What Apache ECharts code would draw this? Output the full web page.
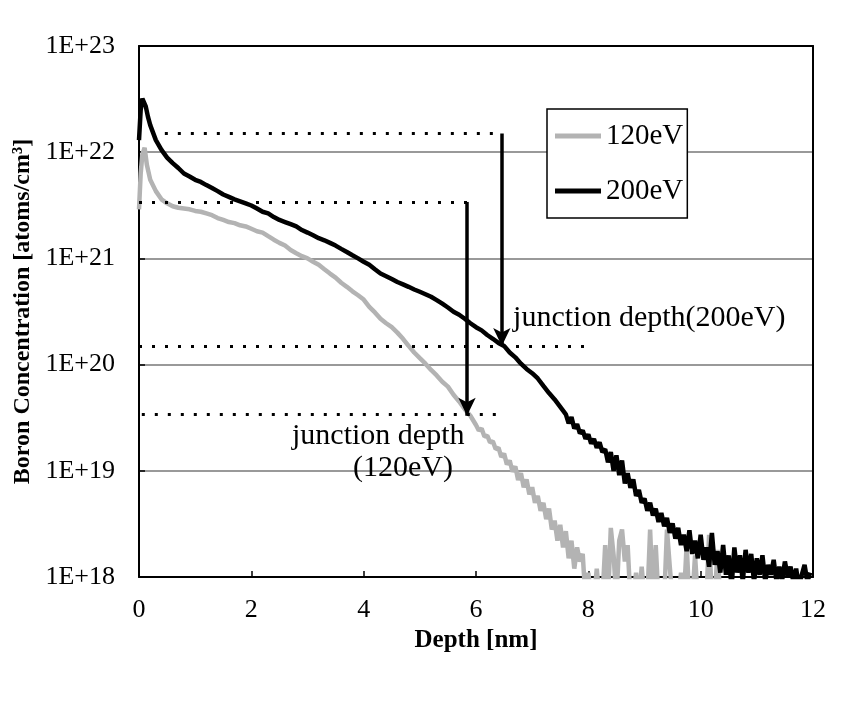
<!DOCTYPE html>
<html>
<head>
<meta charset="utf-8">
<script src="https://cdn.jsdelivr.net/npm/echarts@6/dist/echarts.min.js"></script>
<style>
html,body{margin:0;padding:0;background:#fff;}
#chart{width:865px;height:706px;}
</style>
</head>
<body>
<div id="chart"></div>
<script>
// ---- data ----
const seriesNames = ['120eV', '200eV'];

const depth120 = [0, 0.03, 0.06, 0.1, 0.14, 0.2, 0.3, 0.4, 0.5, 0.6, 0.7, 0.8, 0.9, 1.0,
  1.1, 1.2, 1.3, 1.4, 1.5, 1.6, 1.7, 1.8, 1.9, 2.0, 2.1, 2.2, 2.3, 2.4, 2.5, 2.6, 2.7, 2.8, 2.9, 3.0,
  3.1, 3.2, 3.3, 3.4, 3.5, 3.6, 3.7, 3.8, 3.9, 4.0, 4.1, 4.2, 4.3, 4.4, 4.5, 4.6, 4.7, 4.8, 4.9, 5.0,
  5.1, 5.2, 5.3, 5.4, 5.5, 5.6, 5.7, 5.8, 5.9, 6.0,
  6.05, 6.1, 6.15, 6.2, 6.25, 6.3, 6.35, 6.4, 6.45, 6.5, 6.55, 6.6, 6.65, 6.7, 6.75, 6.8, 6.85, 6.9, 6.95, 7.0,
  7.05, 7.1, 7.15, 7.2, 7.25, 7.3, 7.35, 7.4, 7.45, 7.5, 7.55, 7.6, 7.65, 7.7, 7.75, 7.8, 7.85, 7.9, 7.95, 8.0,
  8.05, 8.1, 8.15, 8.2, 8.25, 8.3, 8.35, 8.4, 8.45, 8.5, 8.55, 8.6, 8.65, 8.7, 8.75, 8.8, 8.85, 8.9, 8.95, 9.0,
  9.05, 9.1, 9.15, 9.2, 9.25, 9.3, 9.35, 9.4, 9.45, 9.5, 9.55, 9.6, 9.65, 9.7, 9.75, 9.8, 9.85, 9.9, 9.95, 10.0,
  10.05, 10.1, 10.15, 10.2, 10.25, 10.3, 10.35, 10.4, 10.45];
const conc120 = [2.9e21, 6.3e21, 9.5e21, 1.1e22, 7.6e21, 5.5e21, 4.3e21, 3.6e21, 3.3e21, 3.1e21, 3.0e21, 2.95e21, 2.9e21, 2.8e21,
  2.75e21, 2.65e21, 2.55e21, 2.4e21, 2.3e21, 2.2e21, 2.15e21, 2.05e21, 2.0e21, 1.9e21, 1.8e21, 1.75e21, 1.62e21, 1.5e21, 1.4e21, 1.32e21, 1.2e21, 1.12e21, 1.05e21, 1.0e21,
  9.3e20, 8.7e20, 7.9e20, 7.2e20, 6.6e20, 5.9e20, 5.4e20, 4.9e20, 4.5e20, 4.1e20, 3.5e20, 3.1e20, 2.7e20, 2.45e20, 2.25e20, 2.0e20, 1.75e20, 1.5e20, 1.3e20, 1.15e20,
  1.02e20, 8.9e19, 7.9e19, 6.9e19, 6.2e19, 5.2e19, 4.5e19, 3.8e19, 3.3e19, 2.7e19,
  2.4e19, 2.5e19, 2.1e19, 2.15e19, 1.85e19, 1.9e19, 1.6e19, 1.65e19, 1.35e19, 1.45e19, 1.15e19, 1.25e19, 9.8e18, 1.1e19, 8.2e18, 9.5e18, 7.0e18, 8.3e18, 6.0e18, 7.0e18,
  5.0e18, 5.8e18, 4.2e18, 5.0e18, 3.5e18, 4.4e18, 2.8e18, 3.4e18, 2.2e18, 3.1e18, 1.9e18, 2.7e18, 1.5e18, 2.2e18, 1.2e18, 1.9e18, 1.4e18, 1.65e18, 6e17, 1.1e18,
  6e17, 6e17, 1.2e18, 6e17, 6e17, 2.0e18, 6e17, 2.9e18, 1.6e18, 6e17, 2.2e18, 2.8e18, 1.4e18, 2.0e18, 6e17, 6e17, 1.1e18, 6e17, 1.25e18, 6e17,
  6e17, 2.8e18, 6e17, 2.0e18, 6e17, 6e17, 6e17, 2.8e18, 1.25e18, 6e17, 6e17, 6e17, 1.1e18, 6e17, 2.0e18, 6e17, 6e17, 1.6e18, 6e17, 6e17,
  6e17, 6e17, 2.5e18, 6e17, 6e17, 1.8e18, 6e17, 6e17, 6e17];

const depth200 = [0, 0.03, 0.06, 0.09, 0.12, 0.16, 0.2, 0.3, 0.4, 0.5, 0.6, 0.7, 0.8, 0.9, 1.0,
  1.1, 1.2, 1.3, 1.4, 1.5, 1.6, 1.7, 1.8, 1.9, 2.0, 2.1, 2.2, 2.3, 2.4, 2.5, 2.6, 2.7, 2.8, 2.9, 3.0,
  3.1, 3.2, 3.3, 3.4, 3.5, 3.6, 3.7, 3.8, 3.9, 4.0, 4.1, 4.2, 4.3, 4.4, 4.5, 4.6, 4.7, 4.8, 4.9, 5.0,
  5.1, 5.2, 5.3, 5.4, 5.5, 5.6, 5.7, 5.8, 5.9, 6.0, 6.1, 6.2, 6.3, 6.4, 6.5, 6.6, 6.7, 6.8, 6.9, 7.0,
  7.1, 7.2, 7.3, 7.4, 7.5, 7.6,
  7.65, 7.7, 7.75, 7.8, 7.85, 7.9, 7.95, 8.0, 8.05, 8.1, 8.15, 8.2, 8.25, 8.3, 8.35, 8.4, 8.45, 8.5,
  8.55, 8.6, 8.65, 8.7, 8.75, 8.8, 8.85, 8.9, 8.95, 9.0, 9.05, 9.1, 9.15, 9.2, 9.25, 9.3, 9.35, 9.4, 9.45, 9.5,
  9.55, 9.6, 9.65, 9.7, 9.75, 9.8, 9.85, 9.9, 9.95, 10.0, 10.05, 10.1, 10.15, 10.2, 10.25, 10.3, 10.35, 10.4, 10.45, 10.5,
  10.55, 10.6, 10.65, 10.7, 10.75, 10.8, 10.85, 10.9, 10.95, 11.0, 11.05, 11.1, 11.15, 11.2, 11.25, 11.3, 11.35, 11.4, 11.45, 11.5,
  11.55, 11.6, 11.65, 11.7, 11.75, 11.8, 11.85, 11.9, 11.95];
const conc200 = [1.3e22, 2.5e22, 3.2e22, 3.3e22, 2.7e22, 2.15e22, 1.8e22, 1.3e22, 1.05e22, 8.9e21, 7.9e21, 7.1e21, 6.3e21, 5.9e21, 5.5e21,
  5.25e21, 4.9e21, 4.6e21, 4.3e21, 4.0e21, 3.8e21, 3.6e21, 3.45e21, 3.3e21, 3.15e21, 2.95e21, 2.75e21, 2.65e21, 2.45e21, 2.3e21, 2.2e21, 2.1e21, 2.0e21, 1.85e21, 1.75e21,
  1.65e21, 1.55e21, 1.48e21, 1.4e21, 1.32e21, 1.23e21, 1.15e21, 1.07e21, 1.0e21, 9.3e20, 8.7e20, 7.9e20, 7.2e20, 6.8e20, 6.4e20, 6.0e20, 5.7e20, 5.4e20, 5.1e20, 4.85e20,
  4.6e20, 4.35e20, 4.05e20, 3.75e20, 3.45e20, 3.15e20, 2.95e20, 2.7e20, 2.45e20, 2.25e20, 2.1e20, 1.9e20, 1.75e20, 1.6e20, 1.5e20, 1.3e20, 1.17e20, 1.02e20, 9.1e19, 8.3e19,
  7.4e19, 6.3e19, 5.4e19, 4.7e19, 4.0e19, 3.4e19,
  2.8e19, 3.2e19, 2.5e19, 2.75e19, 2.25e19, 2.4e19, 2.0e19, 2.2e19, 1.8e19, 2.0e19, 1.65e19, 1.85e19, 1.5e19, 1.6e19, 1.2e19, 1.5e19, 1.0e19, 1.4e19,
  9.1e18, 1.25e19, 7.6e18, 9.5e18, 6.9e18, 8.3e18, 5.8e18, 6.6e18, 5.0e18, 5.5e18, 4.2e18, 5.0e18, 3.8e18, 4.4e18, 3.3e18, 4.0e18, 3.0e18, 3.6e18, 2.6e18, 3.2e18,
  2.3e18, 2.9e18, 2.0e18, 2.5e18, 1.75e18, 2.75e18, 1.65e18, 2.2e18, 1.5e18, 2.5e18, 1.45e18, 1.9e18, 1.25e18, 2.6e18, 1.3e18, 1.75e18, 1.1e18, 2.0e18, 1.05e18, 1.6e18,
  8e17, 1.9e18, 1.1e18, 1.6e18, 9e17, 1.8e18, 1.1e18, 1.65e18, 9e17, 1.5e18, 1.05e18, 1.6e18, 9e17, 1.3e18, 1.05e18, 1.45e18, 9e17, 1.25e18, 9.3e17, 1.4e18,
  1.0e18, 1.25e18, 9e17, 1.2e18, 8e17, 1.05e18, 1.3e18, 9e17, 1.1e18];

// y tick values (decades) and x ticks
const yTickExponents = [18, 19, 20, 21, 22, 23];
const xTicks = [0, 2, 4, 6, 8, 10, 12];

// junction-depth construction (depth, concentration)
const dotted200Top = [[0.46, 1.5e22], [6.46, 1.5e22]];
const dotted200Bottom = [[0.0, 1.5e20], [8.07, 1.5e20]];
const dotted120Top = [[0.0, 3.4e21], [5.84, 3.4e21]];
const dotted120Bottom = [[0.05, 3.4e19], [6.47, 3.4e19]];
const arrow200 = [[6.46, 1.5e22], [6.46, 1.5e20]];
const arrow120 = [[5.84, 3.4e21], [5.84, 3.3e19]];

// annotation anchors
const annotations = [
  { text: 'junction depth(200eV)', at: [6.66, 2.75e20], align: 'left' },
  { text: 'junction depth', at: [4.26, 2.1e19], align: 'center' },
  { text: '(120eV)', at: [4.70, 1.05e19], align: 'center' }
];

// ---- chart ----
const FONT = '"Liberation Serif", "Times New Roman", serif';
const chart = echarts.init(document.getElementById('chart'), null, { renderer: 'canvas' });

const dotStyle = { color: '#000', width: 3, type: [3, 10], cap: 'butt' };
const arrowStyle = { color: '#000', width: 3.5, type: 'solid' };
function seg(pair, style, endSymbol) {
  return [
    { coord: pair[0], symbol: 'none', lineStyle: style },
    { coord: pair[1], symbol: endSymbol, symbolSize: endSymbol === 'arrow' ? [13, 18] : 0, lineStyle: style }
  ];
}

const option = {
  animation: false,
  backgroundColor: '#fff',
  grid: { left: 139, right: 52, top: 46, bottom: 129, containLabel: false },
  legend: {
    data: seriesNames.map(n => ({ name: n, icon: 'rect' })),
    orient: 'vertical',
    left: 547,
    top: 109,
    itemWidth: 46,
    itemHeight: 5,
    itemGap: 25,
    padding: [12, 4, 12, 8],
    backgroundColor: '#fff',
    borderColor: '#000',
    borderWidth: 1.5,
    borderRadius: 0,
    textStyle: { fontFamily: FONT, fontSize: 29, color: '#000', lineHeight: 30 },
    selectedMode: false,
    z: 10
  },
  xAxis: [{
    type: 'value',
    min: 0, max: 12, interval: 2,
    name: 'Depth [nm]',
    nameLocation: 'middle',
    nameGap: 37,
    nameTextStyle: { fontFamily: FONT, fontSize: 25, fontWeight: 'bold', color: '#000' },
    axisLine: { show: true, onZero: false, lineStyle: { color: '#000', width: 2 } },
    axisTick: { show: true, inside: true, length: 6, lineStyle: { color: '#000', width: 1.5 } },
    axisLabel: { fontFamily: FONT, fontSize: 26, color: '#000', margin: 20,
      formatter: v => xTicks.indexOf(v) >= 0 ? String(v) : '' },
    splitLine: { show: false }
  }, {
    type: 'value', position: 'top', min: 0, max: 12,
    axisLine: { show: true, onZero: false, lineStyle: { color: '#000', width: 2 } },
    axisTick: { show: false }, axisLabel: { show: false }, splitLine: { show: false }
  }],
  yAxis: [{
    type: 'log',
    logBase: 10,
    min: 1e18, max: 1e23,
    name: 'Boron Concentration [atoms/cm³]',
    nameLocation: 'middle',
    nameGap: 103,
    nameRotate: 90,
    nameTextStyle: { fontFamily: FONT, fontSize: 24, fontWeight: 'bold', color: '#000' },
    axisLine: { show: true, onZero: false, lineStyle: { color: '#000', width: 2 } },
    axisTick: { show: true, inside: true, length: 6, lineStyle: { color: '#000', width: 1.5 } },
    axisLabel: { fontFamily: FONT, fontSize: 26, color: '#000', margin: 24,
      formatter: v => {
        const e = Math.round(Math.log10(v));
        return yTickExponents.indexOf(e) >= 0 ? '1E+' + e : '';
      } },
    splitLine: { show: true, lineStyle: { color: '#999', width: 2 } }
  }, {
    type: 'log', logBase: 10, position: 'right', min: 1e18, max: 1e23,
    axisLine: { show: true, onZero: false, lineStyle: { color: '#000', width: 2 } },
    axisTick: { show: false }, axisLabel: { show: false }, splitLine: { show: false }
  }],
  series: [
    {
      name: seriesNames[0],
      type: 'line',
      data: depth120.map((d, i) => [d, conc120[i]]),
      showSymbol: false,
      symbol: 'none',
      clip: true,
      lineStyle: { color: '#b3b3b3', width: 4.5 },
      itemStyle: { color: '#b3b3b3' },
      z: 3
    },
    {
      name: seriesNames[1],
      type: 'line',
      data: depth200.map((d, i) => [d, conc200[i]]),
      showSymbol: false,
      symbol: 'none',
      clip: true,
      lineStyle: { color: '#000', width: 4.5 },
      itemStyle: { color: '#000' },
      z: 4
    },
    {
      name: 'annotations',
      type: 'line',
      data: [],
      silent: true,
      z: 5,
      markLine: {
        silent: true,
        animation: false,
        label: { show: false },
        emphasis: { disabled: true },
        data: [
          seg(dotted200Top, dotStyle, 'none'),
          seg(dotted200Bottom, dotStyle, 'none'),
          seg(dotted120Top, dotStyle, 'none'),
          seg(dotted120Bottom, dotStyle, 'none'),
          seg(arrow200, arrowStyle, 'arrow'),
          seg(arrow120, arrowStyle, 'arrow')
        ]
      },
      markPoint: {
        silent: true,
        animation: false,
        symbol: 'circle',
        symbolSize: 0,
        data: annotations.map(a => ({
          coord: a.at,
          label: {
            show: true, position: 'inside', formatter: a.text,
            align: a.align, verticalAlign: 'middle',
            fontFamily: FONT, fontSize: 30, color: '#000'
          }
        }))
      }
    }
  ]
};
chart.setOption(option);
</script>
</body>
</html>
